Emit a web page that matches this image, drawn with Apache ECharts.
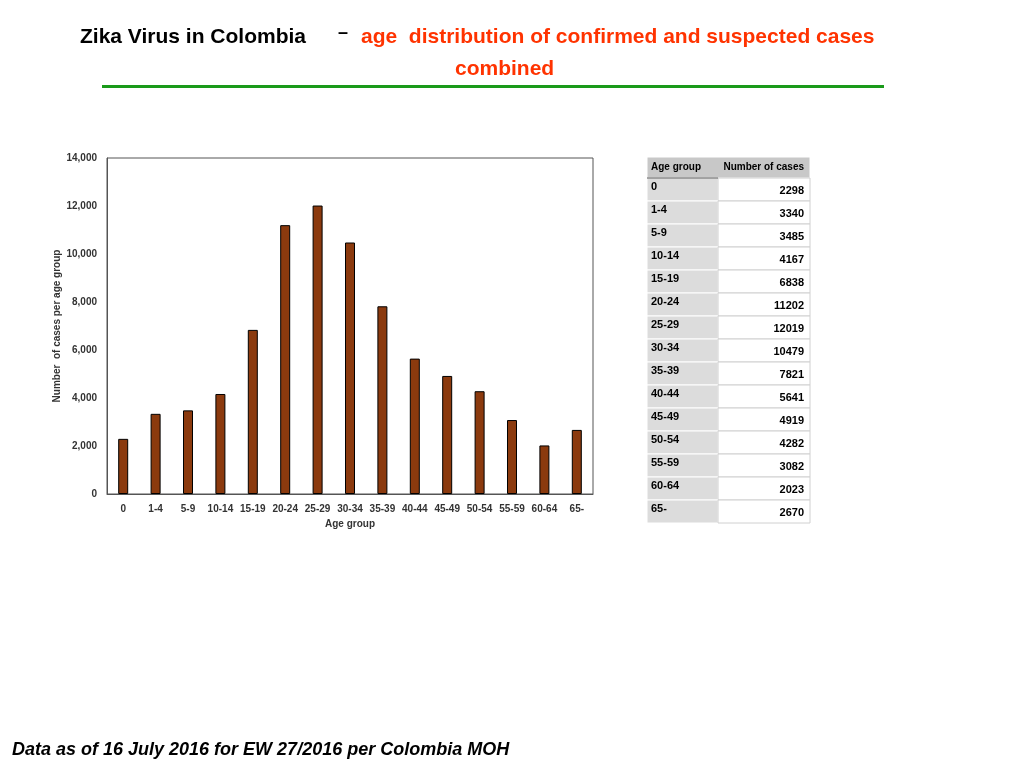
<!DOCTYPE html>
<html><head><meta charset="utf-8">
<script src="https://cdn.jsdelivr.net/npm/echarts@6/dist/echarts.min.js"></script>
<style>html,body{margin:0;padding:0;background:#fff}#c{width:1024px;height:768px}</style>
</head><body><div id="c"></div>
<script>
const categories = ['0','1-4','5-9','10-14','15-19','20-24','25-29','30-34','35-39','40-44','45-49','50-54','55-59','60-64','65-'];
const cases = [2298,3340,3485,4167,6838,11202,12019,10479,7821,5641,4919,4282,3082,2023,2670];
const yTicks = {min:0,max:14000,interval:2000};

const chart = echarts.init(document.getElementById('c'));
const F = 'Liberation Sans, Arial, sans-serif';
const g = [];
// title
g.push({type:'text',left:80,top:27,style:{text:'Zika Virus in Colombia',font:'bold 21px '+F,fill:'#000'}});
g.push({type:'text',left:338,top:24,style:{text:'–',font:'bold 18px '+F,fill:'#000'}});
g.push({type:'text',left:361,top:27,style:{text:'age  distribution of confirmed and suspected cases',font:'bold 21px '+F,fill:'#ff3300'}});
g.push({type:'text',left:455,top:59,style:{text:'combined',font:'bold 21px '+F,fill:'#ff3300'}});
g.push({type:'rect',shape:{x:102,y:85,width:782,height:3},style:{fill:'#1a9a1a'}});
// footer
g.push({type:'text',left:12,top:741,style:{text:'Data as of 16 July 2016 for EW 27/2016 per Colombia MOH',font:'italic bold 18px '+F,fill:'#000'}});
// table
const tx=647, c1=71, c2=92, ty=157, hh=21, rh=23;
g.push({type:'rect',shape:{x:tx,y:ty,width:c1+c2,height:hh},style:{fill:'#c8c8c8',stroke:'#fff',lineWidth:1}});
g.push({type:'text',x:tx+4,y:ty+hh/2,style:{text:'Age group',font:'bold 10px '+F,fill:'#000',verticalAlign:'middle'}});
g.push({type:'text',x:tx+c1+c2-6,y:ty+hh/2,style:{text:'Number of cases',font:'bold 10px '+F,fill:'#000',align:'right',verticalAlign:'middle'}});
categories.forEach((c,i)=>{
  const y = ty+hh+i*rh;
  g.push({type:'rect',shape:{x:tx,y:y,width:c1,height:rh},style:{fill:'#dcdcdc',stroke:'#fff',lineWidth:1}});
  g.push({type:'rect',shape:{x:tx+c1,y:y,width:c2,height:rh},style:{fill:'#fff',stroke:'#d0d0d0',lineWidth:1}});
  g.push({type:'text',x:tx+4,y:y+9,style:{text:c,font:'bold 11px '+F,fill:'#000',verticalAlign:'middle'}});
  g.push({type:'text',x:tx+c1+c2-6,y:y+13,style:{text:String(cases[i]),font:'bold 11px '+F,fill:'#000',align:'right',verticalAlign:'middle'}});
});
g.push({type:'line',shape:{x1:tx,y1:ty+hh,x2:tx+c1,y2:ty+hh},style:{stroke:'#555',lineWidth:1}});

chart.setOption({
  animation:false,
  grid:{left:107,top:158,width:486,height:336,show:true,borderColor:'#555',borderWidth:1},
  xAxis:{type:'category',data:categories,name:'Age group',nameLocation:'middle',nameGap:25,
    nameTextStyle:{fontFamily:F,fontWeight:'bold',fontSize:10,color:'#333'},
    axisTick:{show:false},axisLine:{lineStyle:{color:'#555'}},
    axisLabel:{interval:0,fontFamily:F,fontWeight:'bold',fontSize:10,color:'#333',margin:10}},
  yAxis:{type:'value',min:yTicks.min,max:yTicks.max,interval:yTicks.interval,
    name:'Number  of cases per age group',nameLocation:'middle',nameGap:43,
    nameTextStyle:{fontFamily:F,fontWeight:'bold',fontSize:10,color:'#333'},
    splitLine:{show:false},axisLine:{show:true,lineStyle:{color:'#555'}},axisTick:{show:false},
    axisLabel:{fontFamily:F,fontWeight:'bold',fontSize:10,color:'#333',margin:10}},
  series:[{type:'bar',data:cases,barWidth:10,itemStyle:{color:'#8b3a0e',borderColor:'#000',borderWidth:1}}],
  graphic:g
});
</script></body></html>
